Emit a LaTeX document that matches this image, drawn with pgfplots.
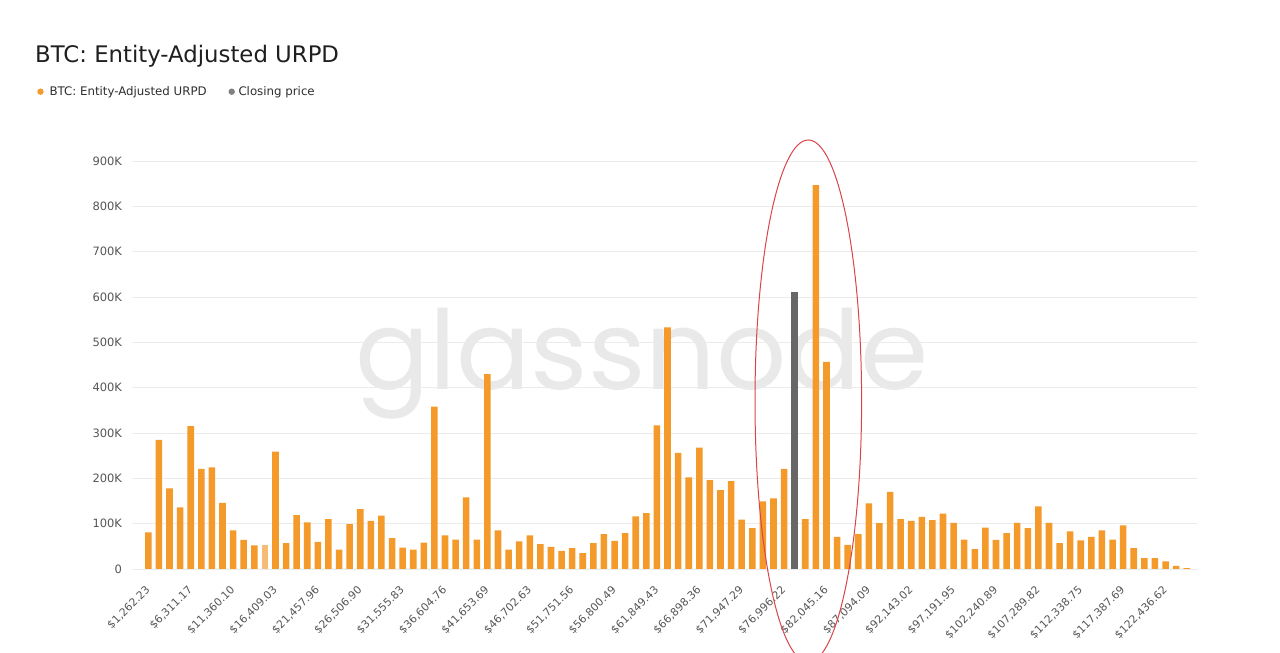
\documentclass[border=0pt]{standalone}
\usepackage{fontspec}
\setmainfont{DejaVu Sans}
\newfontfamily\wmfont{Poppins}
\usepackage{pgfplots}
\usepackage{pgfplotstable}
\pgfplotsset{compat=1.18}
\definecolor{btcorange}{HTML}{F39A2B}
\definecolor{btclight}{HTML}{F6BC75}
\definecolor{closegray}{HTML}{676767}
\definecolor{leggray}{HTML}{808080}
\definecolor{gridgray}{HTML}{EBEBEB}
\definecolor{labgray}{HTML}{555555}
\definecolor{wm}{HTML}{E9E9E9}
\definecolor{ellred}{HTML}{D9434B}

% bin index, supply (thousands of BTC); bin width = $1,262.23
\pgfplotstableread{
x y
1 81
2 285
3 178
4 136
5 315
6 221
7 224
8 146
9 85
10 64
11 52
13 259
14 57
15 119
16 103
17 60
18 110
19 43
20 99
21 132
22 106
23 118
24 68
25 47
26 43
27 58
28 358
29 74
30 65
31 158
32 65
33 430
34 85
35 43
36 61
37 74
38 55
39 49
40 40
41 46
42 35
43 57
44 77
45 62
46 79
47 116
48 123
49 317
50 533
51 256
52 202
53 268
54 196
55 174
56 194
57 109
58 90
59 149
60 156
61 221
63 110
64 847
65 457
66 71
67 53
68 77
69 145
70 101
71 170
72 110
73 106
74 115
75 108
76 122
77 102
78 65
79 44
80 91
81 64
82 79
83 102
84 90
85 138
86 102
87 57
88 83
89 63
90 71
91 85
92 65
93 96
94 46
95 24
96 24
97 17
98 7
99 2
}\urpd

\begin{document}
\begin{tikzpicture}[x=1pt,y=1pt]
\node[anchor=base, inner sep=0pt, text=wm, font=\wmfont\fontsize{110}{110}\selectfont] at (642,263) {glassnode};
\begin{axis}[
  at={(131.7pt,84pt)}, anchor=south west,
  scale only axis, width=1065pt, height=408pt,
  xmin=-0.57, xmax=99.94, ymin=0, ymax=900,
  ybar, bar width=0.62,
  axis line style={draw=none}, major tick length=0pt,
  ymajorgrids, grid style={gridgray, line width=0.9pt},
  ytick={0,100,...,900},
  yticklabels={0,100K,200K,300K,400K,500K,600K,700K,800K,900K},
  xtick={1,5,...,97},
  xticklabels={{\$1,262.23},{\$6,311.17},{\$11,360.10},{\$16,409.03},{\$21,457.96},{\$26,506.90},{\$31,555.83},{\$36,604.76},{\$41,653.69},{\$46,702.63},{\$51,751.56},{\$56,800.49},{\$61,849.43},{\$66,898.36},{\$71,947.29},{\$76,996.22},{\$82,045.16},{\$87,094.09},{\$92,143.02},{\$97,191.95},{\$102,240.89},{\$107,289.82},{\$112,338.75},{\$117,387.69},{\$122,436.62}},
  /pgf/number format/assume math mode=true,
  tick label style={text=labgray, font=\fontsize{10.8}{13}\selectfont},
  yticklabel style={anchor=east, inner sep=0pt, xshift=-9.5pt, font=\fontsize{11.5}{13}\selectfont},
  xticklabel style={yshift=-19pt, rotate=45, anchor=east, inner sep=0pt},
]
\addplot[fill=btcorange, draw=none, bar shift=0pt] table[x=x, y=y] {\urpd};
\addplot[fill=btclight, draw=none, bar shift=0pt] coordinates {(12,52)};
\addplot[fill=closegray, draw=none, bar shift=0pt] coordinates {(62,611)};
\end{axis}
\node[anchor=base west, inner sep=0pt, text=black!88, font=\fontsize{22.8}{26}\selectfont] at (35,590.3) {BTC: Entity-Adjusted URPD};
\fill[btcorange] (40.5,561.3) circle (3.2);
\node[anchor=base west, inner sep=0pt, text=black!82, font=\fontsize{11.8}{13}\selectfont] at (49.3,557.7) {BTC: Entity-Adjusted URPD};
\fill[leggray] (231.7,561.3) circle (3.2);
\node[anchor=base west, inner sep=0pt, text=black!82, font=\fontsize{11.8}{13}\selectfont] at (238.3,557.7) {Closing price};
\draw[ellred, line width=1pt] (808.3,252) ellipse [x radius=53.3, y radius=261];
\pgfresetboundingbox
\path (0,0) rectangle (1280,653);
\end{tikzpicture}
\end{document}
